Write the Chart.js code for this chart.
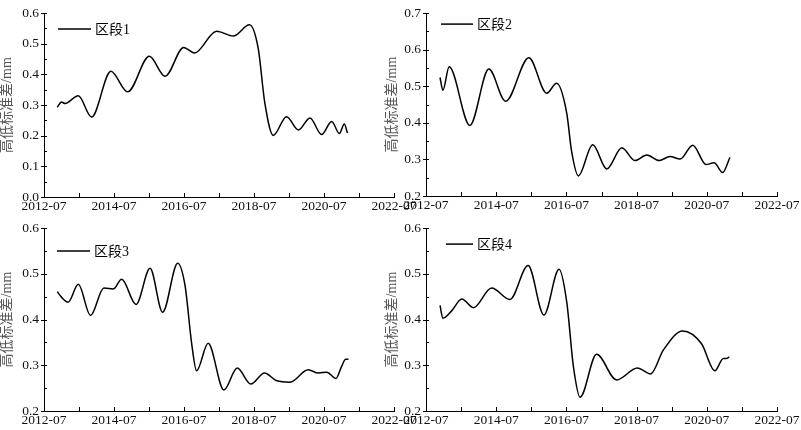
<!DOCTYPE html>
<html><head><meta charset="utf-8">
<script src="https://cdn.jsdelivr.net/npm/chart.js@4.4.1/dist/chart.umd.min.js"></script>
<style>
html,body{margin:0;padding:0;background:#fff;width:801px;height:430px;overflow:hidden;}
canvas{position:absolute;}
</style></head><body>
<canvas id="c1" style="left:0;top:0;width:420px;height:215px" width="420" height="215"></canvas>
<canvas id="c2" style="left:380px;top:0;width:421px;height:215px" width="421" height="215"></canvas>
<canvas id="c3" style="left:0;top:215px;width:420px;height:215px" width="420" height="215"></canvas>
<canvas id="c4" style="left:380px;top:215px;width:421px;height:215px" width="421" height="215"></canvas>
<script>
// ---- data (x = decimal year, y = 高低标准差 in mm) ----
const xTickLabels = ['2012-07','2014-07','2016-07','2018-07','2020-07','2022-07'];
const yTitle = '高低标准差/mm';
const seriesNames = ['区段1','区段2','区段3','区段4'];

const s1x = [2012.88,2013.0,2013.1,2013.48,2013.86,2014.41,2014.89,2015.51,2015.96,2016.49,2016.8,2017.43,2017.91,2018.37,2018.62,2018.81,2019.05,2019.43,2019.77,2020.1,2020.43,2020.72,2020.94,2021.08,2021.17];
const s1y = [0.293,0.31,0.305,0.33,0.261,0.41,0.343,0.459,0.394,0.488,0.47,0.541,0.525,0.562,0.485,0.306,0.201,0.262,0.219,0.258,0.204,0.246,0.207,0.238,0.209];

const s2x = [2012.9,2012.98,2013.16,2013.75,2014.29,2014.77,2015.43,2015.94,2016.22,2016.51,2016.65,2016.84,2017.25,2017.65,2018.08,2018.45,2018.79,2019.15,2019.45,2019.74,2020.1,2020.48,2020.71,2020.95,2021.16];
const s2y = [0.524,0.489,0.553,0.393,0.547,0.459,0.578,0.481,0.508,0.426,0.321,0.255,0.34,0.274,0.332,0.297,0.312,0.297,0.308,0.301,0.339,0.286,0.291,0.264,0.306];

const s3x = [2012.88,2013.0,2013.19,2013.48,2013.83,2014.21,2014.48,2014.72,2015.13,2015.53,2015.89,2016.32,2016.53,2016.72,2016.86,2017.19,2017.64,2018.02,2018.41,2018.8,2019.15,2019.53,2020.05,2020.34,2020.58,2020.84,2021.0,2021.12,2021.2];
const s3y = [0.461,0.449,0.438,0.477,0.409,0.469,0.467,0.488,0.433,0.512,0.416,0.523,0.474,0.347,0.288,0.348,0.246,0.294,0.259,0.283,0.266,0.263,0.29,0.283,0.285,0.271,0.297,0.313,0.313];

const s4x = [2012.9,2012.98,2013.23,2013.52,2013.85,2014.37,2014.89,2015.41,2015.86,2016.29,2016.51,2016.7,2016.89,2017.36,2017.93,2018.52,2018.9,2019.26,2019.81,2020.35,2020.73,2020.97,2021.06,2021.14];
const s4y = [0.431,0.403,0.419,0.445,0.426,0.469,0.444,0.518,0.41,0.51,0.438,0.297,0.23,0.324,0.268,0.294,0.281,0.333,0.375,0.347,0.288,0.315,0.315,0.318];

const yRanges = [[0,0.6],[0.2,0.7],[0.2,0.6],[0.2,0.6]];
const xRange = [2012.5, 2022.5];

// ---- rendering ----
const SERIF = "'Liberation Serif','Times New Roman',serif";
const CJK = "'Liberation Serif','Noto Sans CJK SC',serif";

const axisMarks = {
  id: 'axisMarks',
  afterDraw(chart, args, opts) {
    const {ctx, chartArea: a} = chart;
    const x = chart.scales.x, y = chart.scales.y;
    ctx.save();
    ctx.strokeStyle = '#000';
    ctx.lineWidth = 1;
    ctx.beginPath();
    x.ticks.forEach(t => {
      const px = Math.round(x.getPixelForValue(t.value)) + 0.5;
      ctx.moveTo(px, a.bottom); ctx.lineTo(px, a.bottom - 4);
    });
    const yt = y.ticks.map(t => t.value);
    yt.forEach((v, i) => {
      const py = Math.round(y.getPixelForValue(v)) + 0.5;
      ctx.moveTo(a.left - 3, py); ctx.lineTo(a.left + 3, py);
      if (i < yt.length - 1) {
        const pm = Math.round(y.getPixelForValue((v + yt[i + 1]) / 2)) + 0.5;
        ctx.moveTo(a.left, pm); ctx.lineTo(a.left + 3, pm);
      }
    });
    ctx.stroke();
    // legend
    const ds = chart.data.datasets[0];
    const lx = a.left + opts.dx, ly = a.top + opts.dy;
    ctx.beginPath();
    ctx.lineWidth = 1.5;
    ctx.moveTo(lx, ly); ctx.lineTo(lx + opts.len, ly);
    ctx.stroke();
    ctx.fillStyle = '#000';
    ctx.font = "14px " + CJK;
    ctx.textBaseline = 'middle';
    ctx.textAlign = 'left';
    ctx.fillText(ds.label, lx + opts.len + 4, ly + 1);
    ctx.restore();
  }
};

function makeChart(id, xs, ys, name, yr, cfg) {
  const pts = xs.map((v, i) => ({x: v, y: ys[i]}));
  return new Chart(document.getElementById(id), {
    type: 'line',
    data: {datasets: [{label: name, data: pts, borderColor: '#000', borderWidth: 1.5,
      pointRadius: 0, fill: false, cubicInterpolationMode: 'monotone'}]},
    plugins: [axisMarks],
    options: {
      responsive: false, animation: false, devicePixelRatio: 1,
      layout: {padding: {top: cfg.top, right: cfg.right, left: 0, bottom: 0}},
      plugins: {legend: {display: false}, tooltip: {enabled: false},
        axisMarks: {dx: cfg.ldx, dy: cfg.ldy, len: cfg.llen}},
      scales: {
        x: {type: 'linear', min: xRange[0], max: xRange[1],
          grid: {display: false, drawTicks: false},
          border: {display: true, color: '#000', width: 1},
          afterFit: s => { s.height = cfg.xh; },
          ticks: {stepSize: 1, autoSkip: false, maxRotation: 0, padding: 1, color: '#111',
            font: {family: SERIF, size: 13.5},
            callback: v => { const k = Math.round((v - xRange[0]) * 10) / 10; return (k % 2 === 0) ? xTickLabels[k / 2] : ''; }}
        },
        y: {min: yr[0], max: yr[1],
          grid: {display: false, drawTicks: false},
          border: {display: true, color: '#000', width: 1},
          afterFit: s => { s.width = cfg.yw; },
          title: {display: true, text: yTitle, color: '#555', font: {family: CJK, size: 14, lineHeight: 1},
            padding: {top: cfg.tp, bottom: 0}},
          ticks: {stepSize: 0.1, padding: 5, color: '#111', font: {family: SERIF, size: 13.5},
            callback: v => v.toFixed(1)}
        }
      }
    }
  });
}

makeChart('c1', s1x, s1y, seriesNames[0], yRanges[0], {top: 7, right: 26, xh: 18, yw: 44, tp: 0, ldx: 14, ldy: 16, llen: 33});
makeChart('c2', s2x, s2y, seriesNames[1], yRanges[1], {top: 6, right: 24, xh: 19, yw: 46, tp: 5, ldx: 15, ldy: 11, llen: 32});
makeChart('c3', s3x, s3y, seriesNames[2], yRanges[2], {top: 7, right: 26, xh: 19, yw: 44, tp: 0, ldx: 13, ldy: 23, llen: 33});
makeChart('c4', s4x, s4y, seriesNames[3], yRanges[3], {top: 7, right: 24, xh: 19, yw: 46, tp: 5, ldx: 20, ldy: 16, llen: 27});
</script>
</body></html>
